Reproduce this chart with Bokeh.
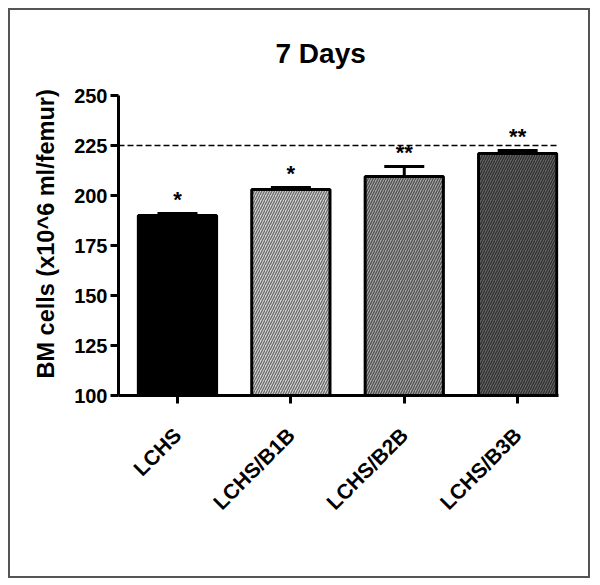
import math
from bokeh.plotting import figure
from bokeh.models import ColumnDataSource, FixedTicker, Whisker, TeeHead, Span, Title
from bokeh.embed import file_html
from bokeh.resources import INLINE
from bokeh.core.properties import value

# ---- data ----
categories = ["LCHS", "LCHS/B1B", "LCHS/B2B", "LCHS/B3B"]
means = [190.0, 203.0, 209.5, 221.0]
errors = [1.0, 1.0, 5.0, 1.5]
stars = ["*", "*", "**", "**"]
reference_level = 225
y_ticks = [100, 125, 150, 175, 200, 225, 250]
y_title = "BM cells (x10^6 ml/femur)"
main_title = "7 Days"

# ---- styles ----
fill_colors = ["#000000", "#d8d8d8", "#a8a8a8", "#686868"]
hatch_colors = ["#000000", "#6a6a6a", "#505050", "#303030"]
hatch_patterns = [" ", "/", "/", "/"]
FONT = "Liberation Sans"
MARGIN = 10                      # figure placed at (10, 10) on the page
W, H = 578, 566                  # grey outline drawn just outside this box

xs = list(range(1, len(categories) + 1))
upper = [m + e for m, e in zip(means, errors)]

src = ColumnDataSource(dict(
    x=xs, mean=means, upper=upper, star=stars,
    fill=fill_colors, hcol=hatch_colors, hpat=hatch_patterns,
))

p = figure(
    width=W, height=H,
    x_range=(0.48, 4.36), y_range=(100, 250),
    output_backend="svg", toolbar_location=None,
    min_border_left=118 - MARGIN, min_border_right=W - (558 - MARGIN),
    min_border_top=95 - MARGIN, min_border_bottom=H - (395 - MARGIN),
    title=main_title,
)
p.margin = (MARGIN, MARGIN, 5, MARGIN)
p.styles = {"outline": "2px solid #555555", "outline-offset": "0px"}

p.title.text_font = FONT
p.title.text_font_size = "28px"
p.title.text_font_style = "bold"
p.title.text_color = "black"
p.title.align = "left"
p.title.vertical_align = "top"
p.title.offset = 157
p.title.standoff = 50

p.grid.visible = False
p.outline_line_color = None
p.background_fill_color = "white"
p.border_fill_color = "white"

# bars
p.vbar(x="x", top="mean", bottom=100, width=0.69, source=src,
       fill_color="fill", line_color="black", line_width=3,
       hatch_pattern="hpat", hatch_color="hcol", hatch_scale=5, hatch_weight=1.3)

# error bars (upper only)
p.add_layout(Whisker(source=src, base="x", lower="mean", upper="upper",
                     line_color="black", line_width=3,
                     upper_head=TeeHead(size=40, line_width=3, line_color="black"),
                     lower_head=None))

# reference line
p.add_layout(Span(location=reference_level, dimension="width",
                  line_color="black", line_width=1.5, line_dash="6 3"))

# significance stars
p.text(x="x", y="upper", text="star", source=src,
       text_font=value(FONT), text_font_size="22px", text_font_style="bold",
       text_align="center", text_baseline="alphabetic", y_offset=-14,
       text_color="black")

# axes
for ax in (p.xaxis[0], p.yaxis[0]):
    ax.axis_line_width = 3
    ax.axis_line_color = "black"
    ax.major_tick_line_width = 3
    ax.major_tick_line_color = "black"
    ax.major_tick_in = 0
    ax.major_tick_out = 8
    ax.minor_tick_line_color = None
    ax.major_label_text_font = FONT
    ax.major_label_text_font_style = "bold"
    ax.major_label_text_color = "black"

p.yaxis.major_label_text_font_size = "20px"
p.yaxis.ticker = FixedTicker(ticks=y_ticks)
p.yaxis.major_label_standoff = 3

# y-axis title as a left-side title so it can be shifted along the axis
p.add_layout(Title(text=y_title, align="left", offset=17, standoff=26,
                   text_font=FONT, text_font_size="23.5px", text_font_style="bold",
                   text_color="black"), "left")

p.xaxis.major_label_text_font_size = "21px"
p.xaxis.ticker = FixedTicker(ticks=xs)
p.xaxis.major_label_overrides = {x: c for x, c in zip(xs, categories)}
p.xaxis.major_label_orientation = math.pi / 4
p.xaxis.major_label_standoff = 28

open("out.html", "w").write(file_html(p, INLINE))
